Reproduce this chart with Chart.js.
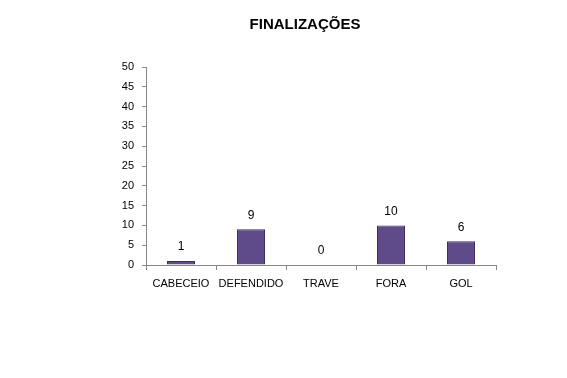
<!DOCTYPE html>
<html>
<head>
<meta charset="utf-8">
<script src="https://cdn.jsdelivr.net/npm/chart.js@4"></script>
<style>
	html, body { margin: 0; padding: 0; background: #ffffff; }
	#wrap { width: 567px; height: 378px; }
</style>
</head>
<body>
<div id="wrap"><canvas id="graficoFinalizacoes" width="567" height="378"></canvas></div>
<script>
const categorias = ["CABECEIO", "DEFENDIDO", "TRAVE", "FORA", "GOL"];
const valores = [1, 9, 0, 10, 6];
const ticksY = [0, 5, 10, 15, 20, 25, 30, 35, 40, 45, 50];

const fonte = "'Liberation Sans', Arial, sans-serif";

// rótulos de valor acima das barras
const rotulos = {
	id: "rotulos",
	afterDatasetsDraw(chart) {
		const ctx = chart.ctx;
		const meta = chart.getDatasetMeta(0);
		ctx.save();
		ctx.font = "12px " + fonte;
		ctx.fillStyle = "#000000";
		ctx.textAlign = "center";
		ctx.textBaseline = "middle";
		meta.data.forEach((bar, i) => {
			ctx.fillText(String(valores[i]), bar.x, bar.y - 14);
		});
		ctx.restore();
	}
};

const ctx = document.getElementById("graficoFinalizacoes").getContext("2d");
new Chart(ctx, {
	type: "bar",
	data: {
		labels: categorias,
		datasets: [{
			data: valores,
			backgroundColor: (c) => {
				const area = c.chart.chartArea;
				const el = c.element;
				if (!area || !el || !el.width) return "#5f4a8a";
				const g = c.chart.ctx.createLinearGradient(el.x - el.width / 2, 0, el.x + el.width / 2, 0);
				g.addColorStop(0, "#4a386e");
				g.addColorStop(0.15, "#65509a");
				g.addColorStop(0.85, "#65509a");
				g.addColorStop(1, "#4a386e");
				return g;
			},
			borderColor: "#3d2f5c",
			borderWidth: 1,
			barPercentage: 0.4,
			categoryPercentage: 1
		}]
	},
	options: {
		responsive: false,
		animation: false,
		layout: { padding: { left: 114, right: 71, top: 0, bottom: 83 } },
		plugins: {
			legend: { display: false },
			tooltip: { enabled: false },
			title: {
				display: true,
				text: "FINALIZAÇÕES",
				color: "#000000",
				font: { family: fonte, size: 15, weight: "bold" },
				padding: { top: 16, bottom: 33 }
			}
		},
		scales: {
			x: {
				afterFit: (s) => { s.height = 30; },
				grid: { offset: true, drawOnChartArea: false, tickLength: 5, color: "#868686" },
				border: { color: "#868686" },
				ticks: {
					color: "#000000",
					font: { family: fonte, size: 11 },
					padding: 7,
					minRotation: 0,
					maxRotation: 0,
					autoSkip: false
				}
			},
			y: {
				min: 0,
				max: 50,
				afterFit: (s) => { s.width = 32; },
				afterBuildTicks: (s) => { s.ticks = ticksY.map(v => ({ value: v })); },
				grid: { drawOnChartArea: false, tickLength: 4, color: "#868686" },
				border: { color: "#868686" },
				ticks: { color: "#000000", font: { family: fonte, size: 11 }, padding: 8 }
			}
		}
	},
	plugins: [rotulos]
});
</script>
</body>
</html>
